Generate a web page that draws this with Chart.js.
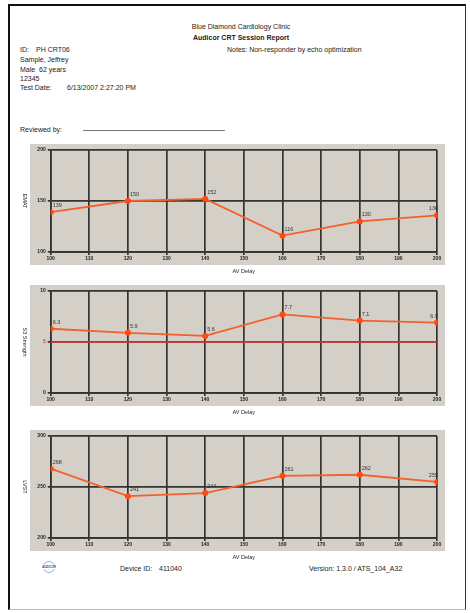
<!DOCTYPE html>
<html><head><meta charset="utf-8">
<script src="https://cdn.jsdelivr.net/npm/chart.js@4.4.1/dist/chart.umd.min.js"></script>
<style>
body{margin:0;width:470px;height:613px;background:#fff;font-family:"Liberation Sans",Arial,sans-serif;color:#222;position:relative;overflow:hidden}
.frame{position:absolute;left:8px;top:4px;width:458px;height:606px;border-left:2px solid #111;border-top:2px solid #111;border-right:1px solid #333;border-bottom:1px solid #bbb;box-sizing:border-box}
.t{position:absolute;font-size:7px;white-space:nowrap;line-height:8px}
.b{font-weight:bold}
canvas{position:absolute}
.rule{position:absolute;left:83px;top:130px;width:142px;height:1px;background:#777}
.logo{position:absolute;left:36px;top:561px;width:26px;height:13px}
.logo .a1{position:absolute;left:7px;top:0;width:12px;height:12px;border-radius:50%;border:1.5px solid #8fb6d6;box-sizing:border-box}
.logo .tx{position:absolute;left:0;top:4px;width:26px;height:4px;background:#fff;font-size:3px;line-height:4px;font-weight:bold;color:#2b4f7a;text-align:center}
</style></head>
<body>
<div class="frame"></div>
<div class="t" style="left:0;width:470px;text-align:center;top:23px;padding-left:12px;box-sizing:border-box">Blue Diamond Cardiology Clinic</div>
<div class="t b" style="left:0;width:470px;text-align:center;top:34px;padding-left:12px;box-sizing:border-box">Audicor CRT Session Report</div>
<div class="t" style="left:20px;top:46px">ID:</div>
<div class="t" style="left:36px;top:46px">PH CRT06</div>
<div class="t" style="left:227px;top:46px">Notes: Non-responder by echo optimization</div>
<div class="t" style="left:20px;top:56px">Sample, Jeffrey</div>
<div class="t" style="left:20px;top:66px">Male&nbsp; 62 years</div>
<div class="t" style="left:20px;top:75px">12345</div>
<div class="t" style="left:20px;top:84px">Test Date:</div>
<div class="t" style="left:67px;top:84px">6/13/2007 2:27:20 PM</div>
<div class="t" style="left:20px;top:126px">Reviewed by:</div>
<div class="rule"></div>

<canvas id="c1" width="432" height="131" style="left:18px;top:144px"></canvas>
<canvas id="c2" width="432" height="131" style="left:18px;top:285px"></canvas>
<canvas id="c3" width="432" height="131" style="left:18px;top:430px"></canvas>

<div class="logo"><div class="a1"></div><div class="tx">AUDICOR</div></div>
<div class="t" style="left:120px;top:565px">Device ID:</div>
<div class="t" style="left:159px;top:565px">411040</div>
<div class="t" style="left:309px;top:565px">Version: 1.3.0 / ATS_104_A32</div>

<script>
// ---- data ----
const avDelay = [100, 120, 140, 160, 180, 200];
const ematValues = [139, 150, 152, 116, 130, 136];
const s3Values = [6.3, 5.9, 5.6, 7.7, 7.1, 6.9];
const lvstValues = [268, 241, 244, 261, 262, 255];
const s3ThresholdX = [100, 200];
const s3ThresholdY = [5, 5];
const xAxisTitle = 'AV Delay';
const ematRange = [100, 200];
const s3Range = [0, 10];
const lvstRange = [200, 300];

const GRID = '#333333';
const PANEL = '#d4d0c8';

const panelPlugin = {
  id: 'panel',
  beforeDraw(chart) {
    const c = chart.ctx;
    c.save();
    c.fillStyle = PANEL;
    c.fillRect(12, 0, 415, 121);
    c.restore();
  }
};

const labelPlugin = {
  id: 'labels',
  afterDatasetsDraw(chart) {
    const c = chart.ctx;
    const meta = chart.getDatasetMeta(0);
    const vals = chart.data.datasets[0].data;
    c.save();
    c.font = '5.5px "Liberation Sans", Arial, sans-serif';
    c.fillStyle = '#333';
    c.textBaseline = 'middle';
    meta.data.forEach((p, i) => {
      const last = i === meta.data.length - 1;
      c.textAlign = last ? 'right' : 'left';
      c.fillText(String(vals[i].y), last ? p.x + 1 : p.x + 2, p.y - 6.5);
    });
    // rotated y title (clockwise)
    const a = chart.chartArea;
    c.translate(7, (a.top + a.bottom) / 2);
    c.rotate(Math.PI / 2);
    c.textAlign = 'center';
    c.fillStyle = '#222';
    c.font = '5.5px "Liberation Sans", Arial, sans-serif';
    c.fillText(chart.options.plugins.yTitleText, 0, 0);
    c.restore();
  }
};

function makeChart(id, values, range, yTitle, threshold) {
  const datasets = [{
    data: avDelay.map((x, i) => ({ x, y: values[i] })),
    borderColor: '#f2612c',
    borderWidth: 1.8,
    pointRadius: 3,
    pointBackgroundColor: '#ff4a10',
    pointBorderColor: '#ff4a10',
    pointBorderWidth: 0,
    tension: 0
  }];
  if (threshold) {
    datasets.push({
      data: threshold.x.map((x, i) => ({ x, y: threshold.y[i] })),
      borderColor: '#e23a3a',
      borderWidth: 1.6,
      pointRadius: 0
    });
  }
  const step = (range[1] - range[0]) / 2;
  return new Chart(document.getElementById(id), {
    type: 'line',
    data: { datasets },
    options: {
      responsive: false,
      animation: false,
      devicePixelRatio: 1,
      layout: { padding: { top: 6, right: 13, left: 0, bottom: 0 } },
      plugins: { legend: { display: false }, tooltip: { enabled: false }, yTitleText: yTitle },
      scales: {
        x: {
          type: 'linear', min: 100, max: 200,
          ticks: { stepSize: 10, color: '#222', padding: 1, font: { size: 5, weight: 'bold', family: '"Liberation Sans", Arial, sans-serif' } },
          grid: { color: GRID, lineWidth: 1.7, tickLength: 3 },
          border: { color: GRID, width: 1.7 },
          title: { display: true, text: xAxisTitle, color: '#222', padding: { top: 5, bottom: 0 }, font: { size: 5.5, family: '"Liberation Sans", Arial, sans-serif' } },
          afterFit(s) { s.height = 23; }
        },
        y: {
          min: range[0], max: range[1],
          ticks: {
            stepSize: step, padding: 2,
            color: ctx => (threshold && ctx.tick && ctx.tick.value === threshold.y[0]) ? '#e23a3a' : '#222',
            font: { size: 5, weight: 'bold', family: '"Liberation Sans", Arial, sans-serif' }
          },
          grid: { color: GRID, lineWidth: 1.7, tickLength: 3 },
          border: { color: GRID, width: 1.7 },
          afterFit(s) { s.width = 32.7; }
        }
      }
    },
    plugins: [panelPlugin, labelPlugin]
  });
}

makeChart('c1', ematValues, ematRange, 'EMAT');
makeChart('c2', s3Values, s3Range, 'S3 Strength', { x: s3ThresholdX, y: s3ThresholdY });
makeChart('c3', lvstValues, lvstRange, 'LVST');
</script>
</body></html>
